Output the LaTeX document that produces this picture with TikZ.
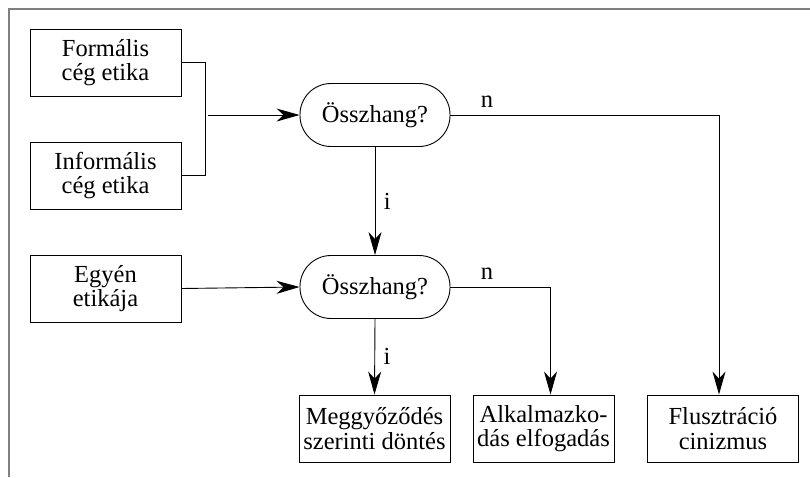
\documentclass[tikz,border=0pt]{standalone}
\usepackage{fontspec}
\setmainfont{Liberation Serif}
\usetikzlibrary{arrows.meta}

\tikzset{
    box/.style={draw, minimum width=151pt, minimum height=67pt, align=center, inner sep=2pt},
    check/.style={draw, rounded corners=31pt, minimum width=150pt, minimum height=63pt},
    flow/.style={-{Stealth[length=23pt,width=13pt,inset=7pt]}},
}

\begin{document}
\begin{tikzpicture}[x=1pt,y=-1pt,font=\fontsize{24.5}{24.5}\selectfont,line width=0.9pt]
    \useasboundingbox (0,0) rectangle (810,477);
    \draw[gray,line width=1.3pt] (9,477) -- (9,9) -- (810,9);
    % inputs
    \node[box] (formal) at (105.5,62.5) {Formális\\cég etika};
    \node[box] (informal) at (105.5,175.5) {Informális\\cég etika};
    \node[box] (egyen) at (105.5,288.5) {Egyén\\etikája};
    % checks
    \node[check] (check1) at (375,115) {Összhang?};
    \node[check] (check2) at (375,287) {Összhang?};
    % outcomes
    \node[box] (meggy) at (374.5,428.5) {Meggyőződés\\szerinti döntés};
    \node[box, minimum width=141pt] (alkalm) at (543.5,428.5) {Alkalmazko-\\dás elfogadás};
    \node[box] (flusz) at (723,428.5) {Flusztráció\\cinizmus};
    \coordinate (join) at (208,115);
    \draw (formal.east) -- ++(24,0) |- (informal.east);
    \draw[flow] (join) -- (check1.west);
    \draw[flow] (check1.south) -- node[right=5pt] {i} (check2.north);
    \draw[flow] (check1.east) -| ([xshift=-4pt]flusz.north);
    \draw[flow] (egyen.east) -- (check2.west);
    \draw[flow] (check2.south) -- node[right=5pt] {i} (meggy.north);
    \draw[flow] (check2.east) -| ([xshift=7pt]alkalm.north);
    \node (n1) at (487,102) {n};
    \node (n2) at (487,274) {n};
\end{tikzpicture}
\end{document}
